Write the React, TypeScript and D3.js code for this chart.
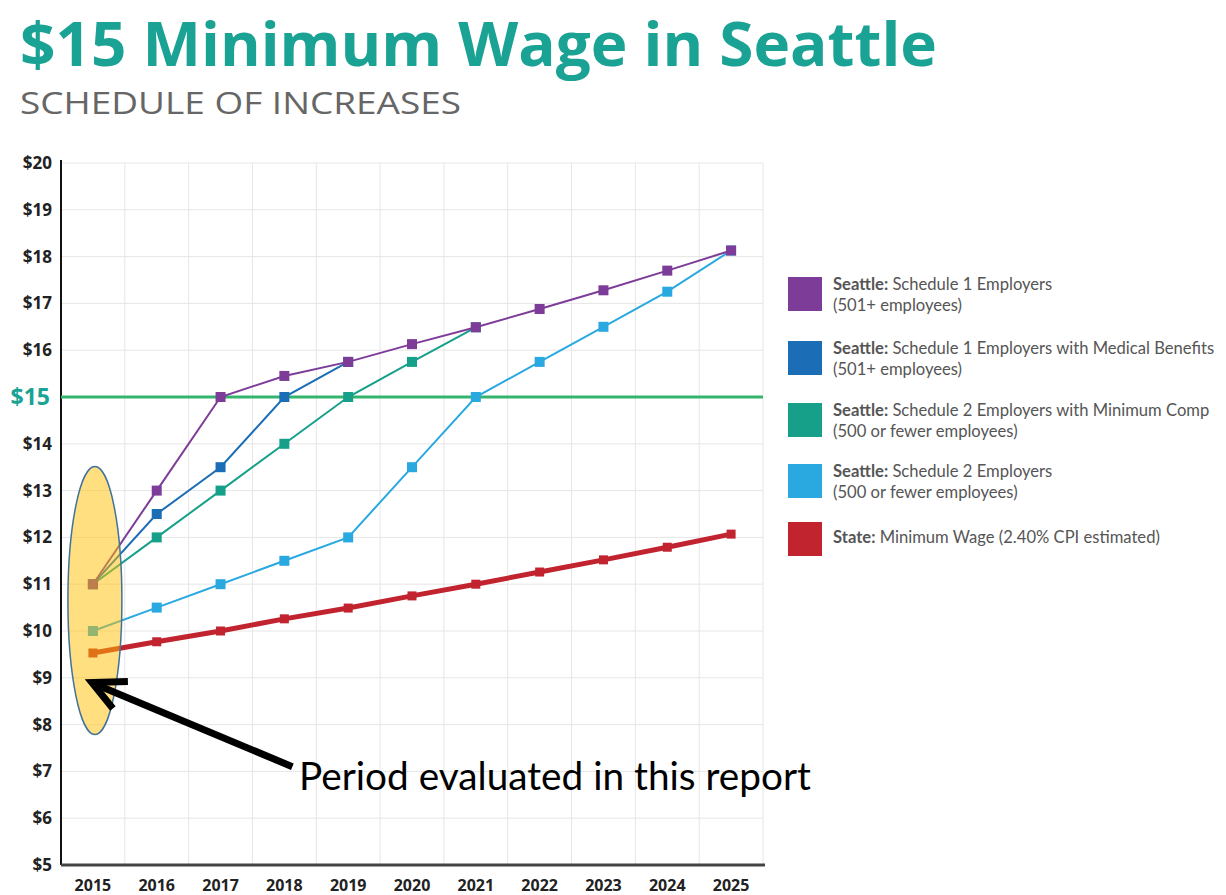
import React from 'react';
import * as d3 from 'd3';

const years = [2015, 2016, 2017, 2018, 2019, 2020, 2021, 2022, 2023, 2024, 2025];
const schedule1 = [11, 13, 15, 15.45, 15.75, 16.13, 16.49, 16.88, 17.28, 17.7, 18.13];
const schedule1Medical = [11, 12.5, 13.5, 15, 15.75];
const schedule2MinComp = [11, 12, 13, 14, 15, 15.75, 16.49];
const schedule2 = [10, 10.5, 11, 11.5, 12, 13.5, 15, 15.75, 16.5, 17.25, 18.13];
const stateMin = [9.53, 9.77, 10, 10.26, 10.49, 10.75, 11, 11.26, 11.52, 11.79, 12.07];
const yTicks = [5, 6, 7, 8, 9, 10, 11, 12, 13, 14, 15, 16, 17, 18, 19, 20];
const targetWage = 15;

const seriesList = [
  { key: 'state', values: stateMin, color: '#c1232f', width: 5, marker: 9 },
  { key: 's2', values: schedule2, color: '#2aa9e0', width: 2, marker: 10 },
  { key: 's2mc', values: schedule2MinComp, color: '#16a08a', width: 2, marker: 10 },
  { key: 's1m', values: schedule1Medical, color: '#1b6db5', width: 2, marker: 10 },
  { key: 's1', values: schedule1, color: '#7d3c98', width: 2, marker: 10 },
];

const legendItems = [
  { color: '#7d3c98', bold: 'Seattle:', text: ' Schedule 1 Employers', sub: '(501+ employees)' },
  { color: '#1b6db5', bold: 'Seattle:', text: ' Schedule 1 Employers with Medical Benefits', sub: '(501+ employees)' },
  { color: '#16a08a', bold: 'Seattle:', text: ' Schedule 2 Employers with Minimum Comp', sub: '(500 or fewer employees)' },
  { color: '#2aa9e0', bold: 'Seattle:', text: ' Schedule 2 Employers', sub: '(500 or fewer employees)' },
  { color: '#c1232f', bold: 'State:', text: ' Minimum Wage (2.40% CPI estimated)', sub: '' },
];
const legendTops = [277, 341, 403, 464, 522];

export default function App() {
  const left = 61, right = 763, top = 163, bottom = 865;
  const xb = d3.scaleBand<number>().domain(years).range([left, right]).paddingInner(0).paddingOuter(0);
  const xc = (yr: number) => (xb(yr) as number) + xb.bandwidth() / 2;
  const y = d3.scaleLinear().domain([5, 20]).range([bottom, top]);
  const line = d3.line<number>().x((_, i) => xc(years[i])).y((v) => y(v));

  const tipX = xc(2015) - 1, tipY = y(8.9);
  const tailX = xc(2018) + 8, tailY = y(7.1);

  const font = "'Open Sans', 'Noto Sans', sans-serif";
  const legendFont = "Lato, 'Open Sans', sans-serif";

  return (
    <svg width={1226} height={895} style={{ position: 'absolute', left: 0, top: 0, background: '#fff' }}>
      <text x={20} y={66} fontFamily={font} fontWeight={700} fontSize={60} fill="#1aa394"
        textLength={917} lengthAdjust="spacingAndGlyphs">$15 Minimum Wage in Seattle</text>
      <text x={20} y={114} fontFamily={font} fontWeight={400} fontSize={31} fill="#666"
        textLength={441} lengthAdjust="spacingAndGlyphs">SCHEDULE OF INCREASES</text>

      {/* grid */}
      {yTicks.filter((t) => t > 5).map((t) => (
        <line key={'h' + t} x1={left} x2={right} y1={y(t)} y2={y(t)} stroke="#e6e6e6" strokeWidth={1} />
      ))}
      {years.slice(1).map((yr) => (
        <line key={'v' + yr} x1={xb(yr)} x2={xb(yr)} y1={top} y2={bottom} stroke="#e6e6e6" strokeWidth={1} />
      ))}
      <line x1={right} x2={right} y1={top} y2={bottom} stroke="#e6e6e6" strokeWidth={1} />

      {/* axes */}
      <line x1={left} x2={left} y1={top - 3} y2={bottom} stroke="#111" strokeWidth={2} />
      <line x1={left} x2={right + 2} y1={bottom} y2={bottom} stroke="#444" strokeWidth={3} />

      {yTicks.map((t) => (
        t === targetWage ? (
          <text key={'yl' + t} x={50} y={y(t) + 8} textAnchor="end" fontFamily={font} fontWeight={700}
            fontSize={23} fill="#1aa394">${t}</text>
        ) : (
          <text key={'yl' + t} x={52} y={y(t) + 6} textAnchor="end" fontFamily={font} fontWeight={700}
            fontSize={17} fill="#222">${t}</text>
        )
      ))}
      {years.map((yr) => (
        <text key={'xl' + yr} x={xc(yr)} y={891} textAnchor="middle" fontFamily={font} fontWeight={700}
          fontSize={16} fill="#222">{yr}</text>
      ))}

      {/* $15 line */}
      <line x1={left} x2={right} y1={y(targetWage)} y2={y(targetWage)} stroke="#35b46e" strokeWidth={3} />

      {seriesList.map((s) => (
        <g key={s.key}>
          <path d={line(s.values) as string} fill="none" stroke={s.color} strokeWidth={s.width} />
          {s.values.map((v, i) => (
            <rect key={i} x={xc(years[i]) - s.marker / 2} y={y(v) - s.marker / 2} width={s.marker}
              height={s.marker} fill={s.color} />
          ))}
        </g>
      ))}

      {/* highlighted period */}
      <ellipse cx={xc(2015) + 2} cy={y(10.65)} rx={27} ry={134} fill="#ffc000" fillOpacity={0.5}
        stroke="#41719c" strokeWidth={1.5} />

      {/* arrow annotation */}
      <path d={`M${tailX},${tailY} L${tipX + 4},${tipY + 2}`} stroke="#000" strokeWidth={7} fill="none" />
      <path d={`M${tipX + 36},${tipY - 1} L${tipX},${tipY} L${tipX + 21},${tipY + 26}`} stroke="#000"
        strokeWidth={7} fill="none" strokeLinejoin="miter" />
      <text x={299} y={790} fontFamily={legendFont} fontSize={38} fill="#000"
        textLength={512} lengthAdjust="spacingAndGlyphs">Period evaluated in this report</text>

      {/* legend */}
      {legendItems.map((it, i) => {
        const t = legendTops[i];
        return (
          <g key={'lg' + i}>
            <rect x={788} y={t} width={34} height={34} fill={it.color} />
            <text x={833} y={it.sub ? t + 13 : t + 21} fontFamily={legendFont} fontSize={16.6} fill="#555">
              <tspan fontWeight={700}>{it.bold}</tspan>
              <tspan>{it.text}</tspan>
            </text>
            {it.sub && (
              <text x={833} y={t + 34} fontFamily={legendFont} fontSize={16.6} fill="#555">
                {it.sub}
              </text>
            )}
          </g>
        );
      })}
    </svg>
  );
}
